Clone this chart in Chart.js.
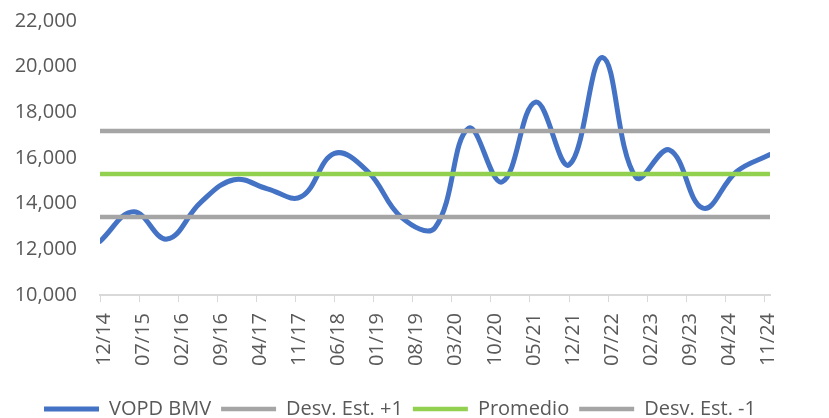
<!DOCTYPE html>
<html>
<head>
<meta charset="utf-8">
<script src="https://cdn.jsdelivr.net/npm/chart.js@4/dist/chart.umd.min.js"></script>
<style>
  html, body { margin: 0; padding: 0; background: #fff; overflow: hidden; }
  .wrap { position: relative; width: 829px; height: 429px; }
</style>
</head>
<body>
<div class="wrap"><canvas id="chart"></canvas></div>
<script>
'use strict';

// ── DATA ─────────────────────────────────────────────────────

// semiannual observations (mm/yy)
const DATES = ['12/14','06/15','12/15','06/16','12/16','06/17','12/17','06/18','12/18','06/19','12/19',
               '06/20','12/20','06/21','12/21','06/22','12/22','06/23','12/23','06/24','12/24'];
const VOPD = [12350, 13650, 12450, 14050, 15050, 14650, 14300, 16200, 15400, 13400, 12950,
              17300, 14950, 18450, 15700, 20400, 15150, 16350, 13800, 15400, 16150];

const PROMEDIO = 15300;
const DESV_MAS = 17180;
const DESV_MENOS = 13420;

const TICK_LABELS = ['12/14','07/15','02/16','09/16','04/17','11/17','06/18','01/19','08/19',
                     '03/20','10/20','05/21','12/21','07/22','02/23','09/23','04/24','11/24'];

// ── HELPERS ──────────────────────────────────────────────────

const monthIndex = d => {
  const [mm, yy] = d.split('/').map(Number);
  return (yy - 14) * 12 + (mm - 12);
};

const series = vals => DATES.map((d, i) => ({ x: monthIndex(d), y: Array.isArray(vals) ? vals[i] : vals }));

const TEXT = '#595959';
const FONT = { family: "'Open Sans', sans-serif", size: 20 };

// legend sits centred a bit right of the plot centre, like the original
const legendShift = {
  id: 'legendShift',
  afterLayout(chart) {
    chart.legend.left += 15;
    chart.legend.right += 15;
  },
};

// ── CHART ────────────────────────────────────────────────────

new Chart(document.getElementById('chart'), {
  type: 'line',
  data: {
    datasets: [
      { label: 'VOPD BMV', data: series(VOPD), borderColor: '#4472C4', borderWidth: 5, tension: 0.4, order: 4 },
      { label: 'Desv. Est. +1', data: series(DESV_MAS), borderColor: '#A5A5A5', borderWidth: 4.5, order: 0 },
      { label: 'Promedio', data: series(PROMEDIO), borderColor: '#92D050', borderWidth: 4.5, order: 0 },
      { label: 'Desv. Est. -1', data: series(DESV_MENOS), borderColor: '#A5A5A5', borderWidth: 4.5, order: 0 },
    ].map(ds => ({ ...ds, pointRadius: 0, borderCapStyle: 'round', borderJoinStyle: 'round', fill: false })),
  },
  plugins: [legendShift],
  options: {
    responsive: true,
    maintainAspectRatio: false,
    animation: false,
    layout: { padding: { top: 21, left: 0, right: 59, bottom: 0 } },
    plugins: {
      tooltip: { enabled: false },
      legend: {
        position: 'bottom',
        labels: {
          usePointStyle: true,
          pointStyle: 'line',
          pointStyleWidth: 55,
          font: FONT,
          color: TEXT,
          padding: 10,
          sort: (a, b) => a.datasetIndex - b.datasetIndex,
        },
      },
    },
    scales: {
      x: {
        type: 'linear',
        min: 0,
        max: 120,
        afterFit: s => { s.height = 94; },
        grid: { drawOnChartArea: false, drawTicks: true, tickLength: 7, color: '#D9D9D9' },
        border: { color: '#D9D9D9', width: 2 },
        ticks: {
          stepSize: 7,
          includeBounds: false,
          autoSkip: false,
          minRotation: 90,
          maxRotation: 90,
          padding: 11,
          labelOffset: 4,
          font: FONT,
          color: TEXT,
          callback: v => TICK_LABELS[v / 7],
        },
      },
      y: {
        min: 10000,
        max: 22000,
        afterFit: s => { s.width = 100; },
        // invisible tick marks keep the labels clear of the plot
        grid: { drawOnChartArea: false, drawTicks: true, tickLength: 23, color: 'transparent' },
        border: { display: false },
        ticks: {
          stepSize: 2000,
          padding: 0,
          font: FONT,
          color: TEXT,
          callback: v => v.toLocaleString('en-US'),
        },
      },
    },
  },
});
</script>
</body>
</html>
